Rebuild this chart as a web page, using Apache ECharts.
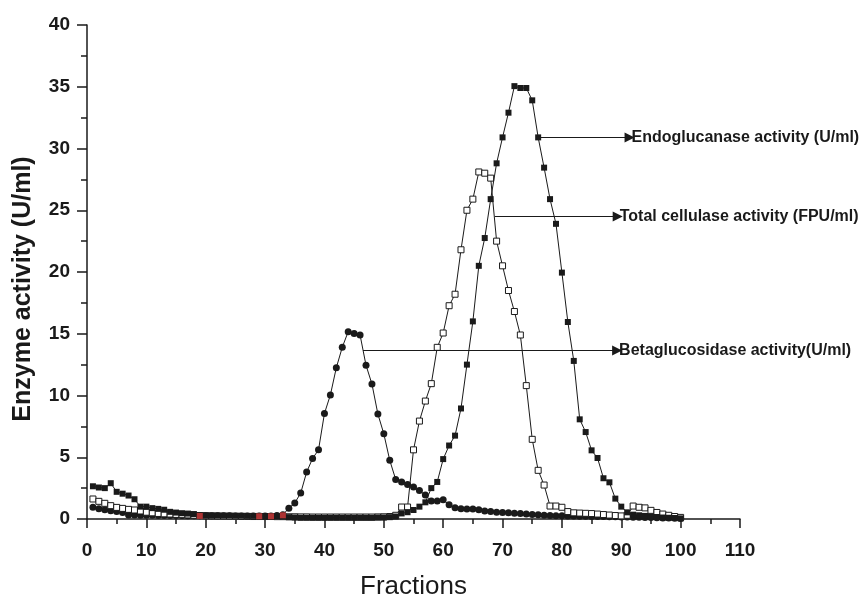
<!DOCTYPE html>
<html><head><meta charset="utf-8">
<script src="https://cdn.jsdelivr.net/npm/echarts@6/dist/echarts.min.js"></script>
<style>html,body{margin:0;padding:0;background:#fff}#c{width:863px;height:595px}</style>
</head><body><div id="c"></div>
<script>
const fractions = [1,2,3,4,5,6,7,8,9,10,11,12,13,14,15,16,17,18,19,20,21,22,23,24,25,26,27,28,29,30,31,32,33,34,35,36,37,38,39,40,41,42,43,44,45,46,47,48,49,50,51,52,53,54,55,56,57,58,59,60,61,62,63,64,65,66,67,68,69,70,71,72,73,74,75,76,77,78,79,80,81,82,83,84,85,86,87,88,89,90,91,92,93,94,95,96,97,98,99,100];
const endoglucanase = [
2.65,2.55,2.5,2.9,2.2,2.05,1.9,1.6,1.0,1.0,
0.88,0.82,0.75,0.58,0.52,0.47,0.44,0.4,0.32,0.3,
0.28,0.28,0.27,0.27,0.26,0.26,0.25,0.25,0.25,0.24,
0.24,0.23,0.22,0.15,0.12,0.1,0.1,0.1,0.1,0.1,
0.1,0.1,0.1,0.1,0.1,0.1,0.1,0.1,0.12,0.12,
0.15,0.2,0.45,0.55,0.73,1.0,1.35,2.5,3.0,4.85,
5.95,6.75,8.95,12.5,16.0,20.5,22.75,25.9,28.8,30.9,
32.9,35.05,34.9,34.9,33.9,30.9,28.45,25.9,23.9,19.95,
15.95,12.8,8.07,7.04,5.56,4.94,3.3,2.97,1.65,1.0,
0.54,0.35,0.3,0.25,0.2,0.16,0.12,0.1,0.08,0.05];
const totalCellulase = [
1.62,1.43,1.27,1.08,0.94,0.86,0.78,0.73,0.65,0.55,
0.5,0.45,0.42,0.4,0.37,0.35,0.33,0.3,0.28,0.26,
0.25,0.24,0.23,0.22,0.22,0.21,0.21,0.2,0.2,0.2,
0.2,0.19,0.19,0.18,0.18,0.17,0.17,0.16,0.16,0.16,
0.16,0.16,0.16,0.16,0.16,0.16,0.16,0.16,0.17,0.18,
0.2,0.3,0.97,0.97,5.6,7.93,9.55,10.96,13.9,15.06,
17.27,18.2,21.8,25.0,25.9,28.1,28.0,27.6,22.5,20.5,
18.5,16.8,14.9,10.8,6.45,3.94,2.75,1.05,1.05,0.95,
0.6,0.5,0.48,0.46,0.44,0.4,0.36,0.32,0.28,0.25,
0.3,1.05,0.95,0.9,0.7,0.53,0.4,0.3,0.2,0.13];
const betaglucosidase = [
0.95,0.82,0.74,0.67,0.6,0.52,0.33,0.32,0.3,0.3,
0.3,0.29,0.29,0.28,0.28,0.28,0.27,0.27,0.27,0.27,
0.26,0.26,0.26,0.26,0.25,0.25,0.25,0.25,0.25,0.25,
0.25,0.28,0.35,0.87,1.3,2.1,3.8,4.9,5.6,8.55,
10.05,12.25,13.9,15.17,15.03,14.9,12.45,10.93,8.5,6.9,
4.75,3.2,3.0,2.8,2.6,2.3,1.94,1.45,1.45,1.55,
1.16,0.92,0.82,0.8,0.8,0.75,0.65,0.6,0.55,0.52,
0.5,0.47,0.44,0.4,0.37,0.34,0.3,0.28,0.27,0.26,
0.25,0.24,0.23,0.22,0.21,0.2,0.2,0.19,0.18,0.17,
0.16,0.15,0.14,0.13,0.12,0.1,0.09,0.08,0.07,0.05];
const redFractions = [19, 29, 31, 33];
const redValues = [0.25, 0.22, 0.22, 0.3];
const xTicks = [0,10,20,30,40,50,60,70,80,90,100,110];
const yTicks = [0,5,10,15,20,25,30,35,40];
const annotations = [
  {name:'Endoglucanase activity (U/ml)', from:[76.1,30.9], to:[91.4,30.9]},
  {name:'Total cellulase activity (FPU/ml)', from:[68.7,24.5], to:[89.4,24.5]},
  {name:'Betaglucosidase activity(U/ml)', from:[46.5,13.65], to:[89.3,13.65]}
];

const pair = (xs, ys) => xs.map((x,i)=>[x, ys[i]]);
const FONT = 'Arial, "Liberation Sans", sans-serif';
const ink = '#1a1a1a';

function mk(a){
  return {
    silent:true, symbol:['none','triangle'], symbolSize:[10,10], symbolRotate:[0,-90],
    lineStyle:{color:ink,width:1,type:'solid'},
    itemStyle:{color:ink},
    label:{show:true,position:'end',distance:2,formatter:a.name,color:ink,fontWeight:'bold',fontSize:16,fontFamily:FONT},
    emphasis:{disabled:true},
    data:[[{coord:a.from},{coord:a.to}]]
  };
}

const chart = echarts.init(document.getElementById('c'), null, {renderer:'canvas'});
chart.setOption({
  animation:false,
  backgroundColor:'#fff',
  grid:{left:87,right:123,top:25,bottom:76,containLabel:false,outerBoundsMode:'none'},
  xAxis:{
    type:'value', min:xTicks[0], max:xTicks[xTicks.length-1], interval:10,
    name:'Fractions', nameLocation:'middle', nameGap:55,
    nameTextStyle:{fontSize:26,fontFamily:FONT,color:ink},
    axisLine:{show:true,onZero:false,lineStyle:{color:ink,width:1.5}},
    axisTick:{show:true,inside:false,length:9,lineStyle:{color:ink,width:1.5}},
    minorTick:{show:true,splitNumber:2,length:5,lineStyle:{color:ink,width:1.5}},
    axisLabel:{fontSize:19,fontWeight:'bold',fontFamily:FONT,color:ink,margin:22},
    splitLine:{show:false}
  },
  yAxis:{
    type:'value', min:yTicks[0], max:yTicks[yTicks.length-1], interval:5,
    axisLine:{show:true,lineStyle:{color:ink,width:1.5}},
    axisTick:{show:true,inside:false,length:10,lineStyle:{color:ink,width:1.5}},
    minorTick:{show:true,splitNumber:2,length:6,lineStyle:{color:ink,width:1.5}},
    axisLabel:{fontSize:19,fontWeight:'bold',fontFamily:FONT,color:ink,margin:17},
    splitLine:{show:false}
  },
  graphic:[{
    type:'text', x:23, y:289, rotation:Math.PI/2,
    style:{text:'Enzyme activity (U/ml)',fontSize:25,fontWeight:'bold',fontFamily:FONT,fill:ink,align:'center',verticalAlign:'middle'}
  }],
  series:[
    {name:'Betaglucosidase activity', type:'line', data:pair(fractions,betaglucosidase),
     symbol:'circle', symbolSize:7, showAllSymbol:true,
     itemStyle:{color:ink,borderColor:ink,borderWidth:0},
     lineStyle:{color:ink,width:1}, markLine:mk(annotations[2]), z:3},
    {name:'Total cellulase activity', type:'line', data:pair(fractions,totalCellulase),
     symbol:'rect', symbolSize:6, showAllSymbol:true,
     itemStyle:{color:'#fff',borderColor:ink,borderWidth:1},
     lineStyle:{color:ink,width:1}, markLine:mk(annotations[1]), z:4},
    {name:'Endoglucanase activity', type:'line', data:pair(fractions,endoglucanase),
     symbol:'rect', symbolSize:6, showAllSymbol:true,
     itemStyle:{color:ink,borderColor:ink,borderWidth:0},
     lineStyle:{color:ink,width:1}, markLine:mk(annotations[0]), z:5},
    {name:'highlight', type:'scatter', data:pair(redFractions,redValues),
     symbol:'rect', symbolSize:6, itemStyle:{color:'#d23a3a'}, z:6}
  ]
});
</script></body></html>
